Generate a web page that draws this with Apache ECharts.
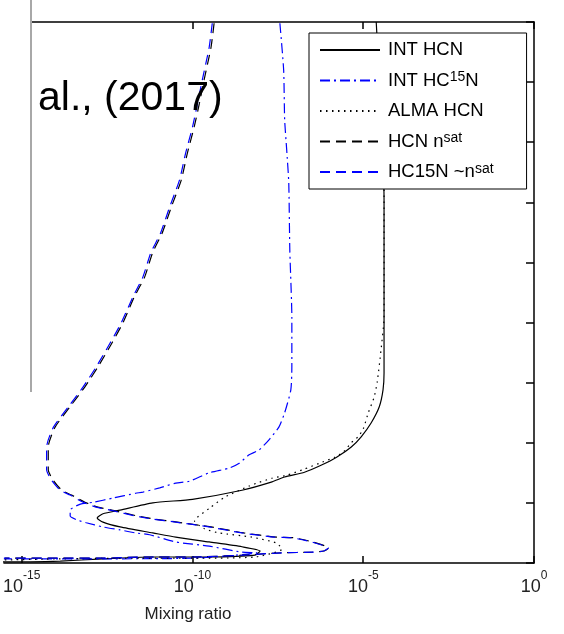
<!DOCTYPE html>
<html><head><meta charset="utf-8">
<script src="https://cdn.jsdelivr.net/npm/echarts@6/dist/echarts.min.js"></script>
<style>html,body{margin:0;padding:0;background:#fff}#c{width:564px;height:634px}</style>
</head><body><div id="c"></div>
<script>
// ---- data (mixing ratio vs altitude) ----
const seriesNames = ['INT HCN', 'INT HC15N', 'ALMA HCN', 'HCN nsat', 'HC15N nsat'];
const xLabelExponents = [-15, -10, -5, 0];
const xAxisTitle = 'Mixing ratio';
const overlayText = 'al., (2017)';

const intHcnAlt = [900,604,316,288,260,233,210,193,176,163,151,143,135,121,106,100,88,82,75,68,60,50,43,35,27,20,13,10,10,7,3,2,2,1];
const intHcnMix = [2.40e-5,4.07e-5,4.07e-5,3.80e-5,2.95e-5,1.70e-5,8.71e-6,4.47e-6,1.66e-6,6.03e-7,1.91e-7,5.01e-8,2.14e-8,2.82e-9,1e-10,6.92e-12,7.59e-13,2.40e-13,1.62e-13,2.40e-13,7.59e-13,6.92e-12,3.24e-11,3.09e-10,2.82e-9,9.55e-9,6.76e-9,3.09e-10,6.92e-12,2.40e-13,1.35e-14,1.82e-15,3.02e-16,1e-17];

const intHc15nAlt = [898,820,737,687,632,521,409,326,288,250,226,205,188,180,166,158,150,136,133,125,118,116,108,101,98,88,78,72,67,60,55,50,47,35,28,18,17,8,7,7];
const intHc15nMix = [3.63e-8,4.68e-8,5.01e-8,5.75e-8,6.61e-8,7.08e-8,8.13e-8,8.13e-8,7.59e-8,5.01e-8,3.39e-8,1.74e-8,8.91e-9,4.57e-9,2.34e-9,1.20e-9,3.09e-10,8.13e-11,3.24e-11,1.10e-11,3.55e-12,2.19e-12,4.68e-13,1.23e-13,5.25e-14,2.63e-14,2.63e-14,3.98e-14,7.76e-14,2.40e-13,7.59e-13,2.19e-12,5.62e-12,3.24e-11,3.09e-10,2.82e-9,7.76e-9,1e-10,2.40e-13,3.02e-16];

const almaHcnAlt = [621,409,354,301,276,250,223,210,200,185,176,166,156,146,141,133,128,110,92,70,57,50,43,33,23,10,8,8,7,5];
const almaHcnMix = [4.07e-5,4.07e-5,3.31e-5,2.57e-5,2.09e-5,1.41e-5,1e-5,7.08e-6,4.47e-6,2.63e-6,1.45e-6,5.25e-7,1.82e-7,5.75e-8,2.14e-8,7.76e-9,4.57e-9,9.12e-10,3.31e-10,1.15e-10,2.24e-10,6.03e-10,5.50e-9,2.95e-8,4.17e-8,6.76e-9,1e-10,3.55e-12,1.66e-14,3.02e-16];

const hcnSatAlt = [898,858,804,765,725,682,637,592,549,516,476,443,399,366,326,293,260,226,193,171,155,138,121,113,101,93,87,78,73,68,60,50,43,42,35,25,20,18,17,13,10,10,8,8,8];
const hcnSatMix = [4.3e-10,3.5e-10,2.2e-10,1.6e-10,1.12e-10,7.1e-11,4.7e-11,2.4e-11,1.3e-11,6.8e-12,4.0e-12,2.0e-12,9.1e-13,4.4e-13,1.7e-13,7.1e-14,2.6e-14,9.5e-15,6.0e-15,6.0e-15,6.0e-15,8.3e-15,1.5e-14,2.9e-14,7.1e-14,1.7e-13,5.2e-13,2.5e-12,7.8e-12,3.6e-11,3.5e-10,3.2e-9,2.9e-8,9.1e-8,3.3e-7,9.8e-7,7.2e-7,3.3e-7,4.5e-8,3.0e-9,1.1e-10,3.9e-12,2.6e-13,9.0e-15,3.2e-16];

const hc15nSatAlt = [898,858,804,765,725,682,637,592,549,516,476,443,399,366,326,293,260,226,193,171,155,138,121,113,101,93,87,78,73,68,60,50,43,42,35,25,20,18,17,13,10,10,8,8,8];
const hc15nSatMix = [3.80e-10,3.09e-10,1.95e-10,1.41e-10,1e-10,6.31e-11,4.17e-11,2.14e-11,1.17e-11,6.03e-12,3.55e-12,1.82e-12,8.13e-13,3.89e-13,1.51e-13,6.31e-14,2.34e-14,8.51e-15,5.37e-15,5.37e-15,5.37e-15,7.41e-15,1.35e-14,2.63e-14,6.31e-14,1.51e-13,4.68e-13,2.19e-12,6.92e-12,3.24e-11,3.09e-10,2.82e-9,2.57e-8,8.13e-8,3.09e-7,9.55e-7,6.92e-7,3.09e-7,4.17e-8,2.82e-9,1e-10,3.55e-12,2.40e-13,8.51e-15,3.02e-16];

// ---- build ----
function pairs(mix, alt) { return mix.map((v, i) => [Math.log10(v), alt[i]]); }
const BLUE = '#0000ff', BLACK = '#000000';
const styles = [
  { color: BLACK, type: 'solid', width: 1.2 },
  { color: BLUE, type: [10, 4, 2, 4], width: 1.2 },
  { color: BLACK, type: [1.5, 4.5], width: 1.2 },
  { color: BLACK, type: [10, 6], width: 1.2 },
  { color: BLUE, type: [10, 6], width: 1.2 }
];
const datasets = [
  pairs(intHcnMix, intHcnAlt),
  pairs(intHc15nMix, intHc15nAlt),
  pairs(almaHcnMix, almaHcnAlt),
  pairs(hcnSatMix, hcnSatAlt),
  pairs(hc15nSatMix, hc15nSatAlt)
];
const legendText = {
  'INT HCN': 'INT HCN',
  'INT HC15N': 'INT HC{s|15}N',
  'ALMA HCN': 'ALMA HCN',
  'HCN nsat': 'HCN n{s|sat}',
  'HC15N nsat': 'HC15N ~n{s|sat}'
};

const chart = echarts.init(document.getElementById('c'), null, { renderer: 'canvas' });
const FONT = '"Liberation Sans", Arial, sans-serif';
const X_MIN = -15.52;
const xCommon = {
  type: 'value', min: X_MIN, max: 0,
  axisLine: { show: true, lineStyle: { color: '#000', width: 1.5 } },
  axisTick: { show: true, inside: true, length: 7, customValues: xLabelExponents, lineStyle: { color: '#000', width: 1.5 } },
  splitLine: { show: false }
};
chart.setOption({
  animation: false,
  backgroundColor: '#fff',
  grid: { left: 0, right: 30, top: 22, bottom: 71, containLabel: false },
  xAxis: [
    Object.assign({}, xCommon, {
      position: 'bottom',
      name: xAxisTitle, nameLocation: 'middle', nameGap: 43,
      nameTextStyle: { fontSize: 17, color: '#222', fontFamily: FONT, padding: [0, 162, 0, 0] },
      axisLabel: {
        show: true, margin: 7, customValues: xLabelExponents, showMinLabel: true, showMaxLabel: true,
        formatter: v => '{a|10}{b|' + v + '}',
        rich: {
          a: { fontSize: 18, color: '#222', fontFamily: FONT, lineHeight: 26, verticalAlign: 'bottom' },
          b: { fontSize: 12, color: '#222', fontFamily: FONT, lineHeight: 26, verticalAlign: 'top' }
        }
      }
    }),
    Object.assign({}, xCommon, { position: 'top', axisLabel: { show: false } })
  ],
  yAxis: [{
    type: 'value', min: 0, max: 900, interval: 100, position: 'right',
    axisLine: { show: true, lineStyle: { color: '#000', width: 1.5 } },
    axisTick: { show: true, inside: true, length: 8, lineStyle: { color: '#000', width: 1.5 } },
    axisLabel: { show: false },
    splitLine: { show: false }
  }],
  legend: {
    show: true,
    orient: 'vertical', left: 309, top: 33,
    padding: [7, 33, 7, 10],
    backgroundColor: '#fff', borderColor: '#000', borderWidth: 1, borderRadius: 0,
    itemWidth: 60, itemHeight: 20, itemGap: 10.5,
    itemStyle: { color: 'rgba(0,0,0,0)', borderWidth: 0, opacity: 0 },
    data: seriesNames,
    formatter: n => legendText[n],
    textStyle: {
      fontSize: 18.5, color: '#000', fontFamily: FONT, lineHeight: 20, padding: [0, 0, 0, 3],
      rich: { s: { fontSize: 14, fontFamily: FONT, color: '#000', lineHeight: 20, verticalAlign: 'top' } }
    }
  },
  series: seriesNames.map((n, i) => ({
    name: n, type: 'line', data: datasets[i],
    symbol: 'none', showSymbol: false, smooth: 0.2, clip: true,
    lineStyle: styles[i], itemStyle: { color: styles[i].color },
    z: 2 + i
  })),
  graphic: [
    { type: 'rect', z: 100, shape: { x: 0, y: 0, width: 30, height: 392 }, style: { fill: '#fff' } },
    { type: 'rect', z: 101, shape: { x: 30, y: 0, width: 2, height: 392 }, style: { fill: '#a8a8a8' } },
    { type: 'text', z: 102, x: 38, y: 78, style: { text: overlayText, font: '41px "Liberation Sans", Arial, sans-serif', fill: '#000', textBaseline: 'alphabetic' } }
  ]
});
</script></body></html>
